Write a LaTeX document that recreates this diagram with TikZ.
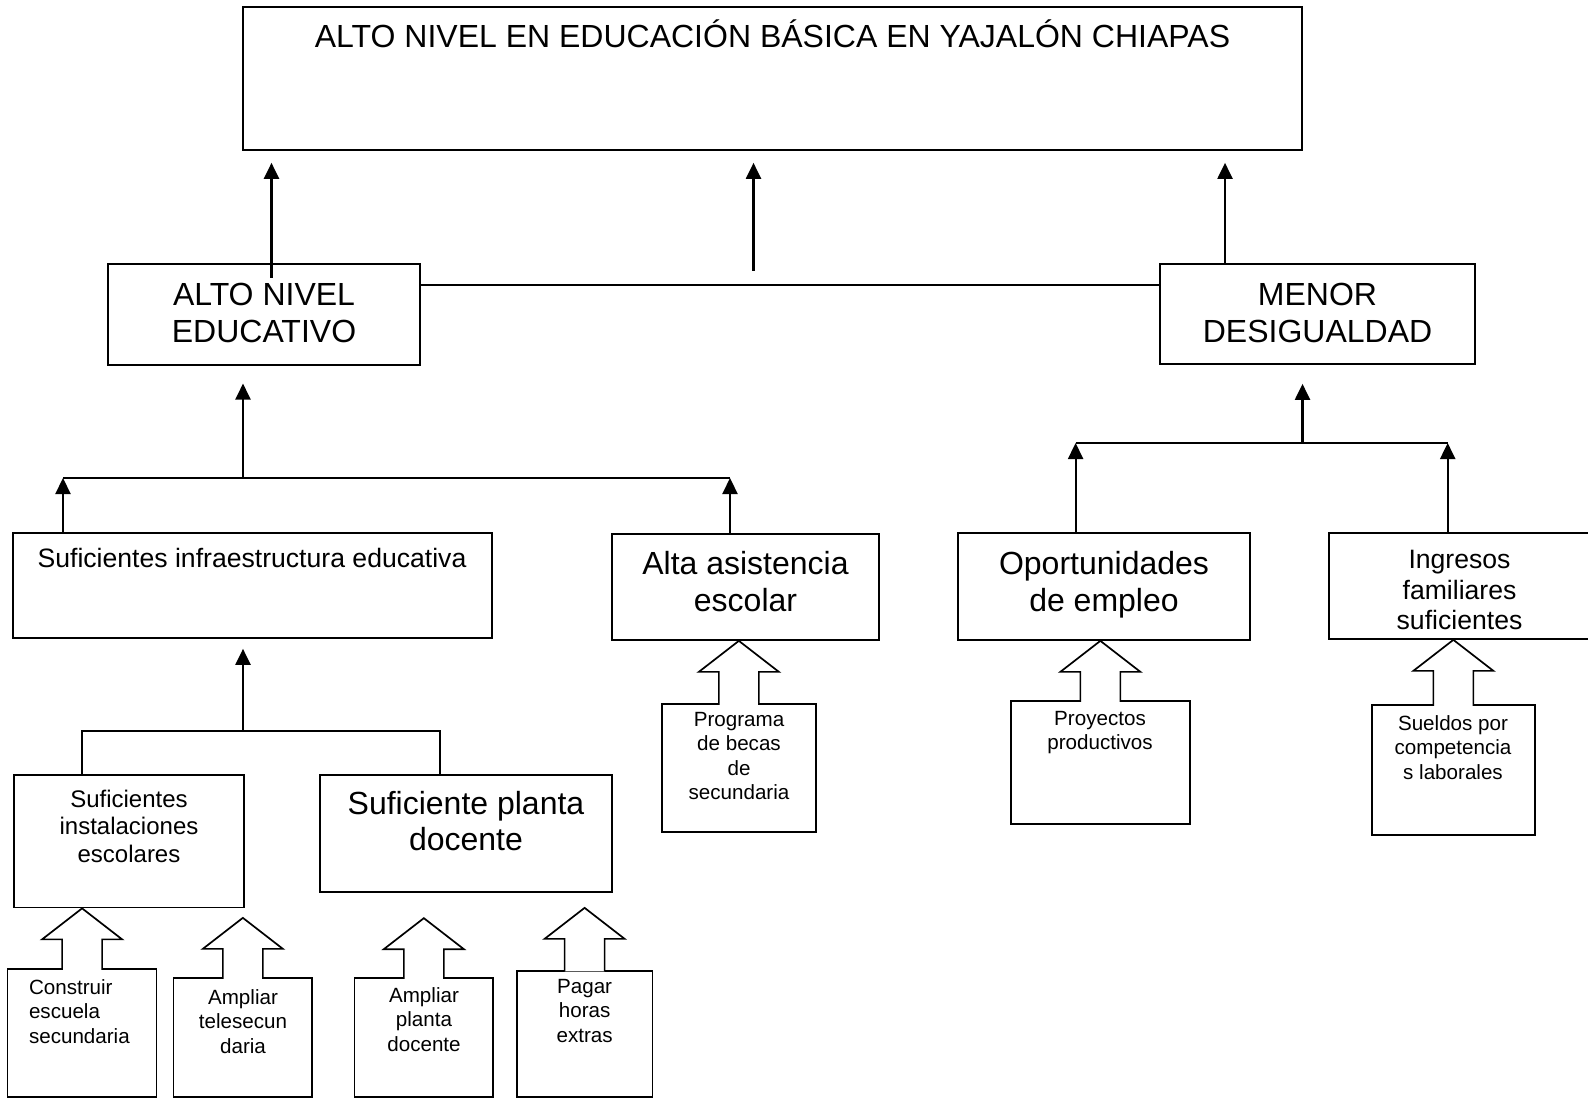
\documentclass[tikz,border=0pt]{standalone}
\usepackage{fontspec}
\setmainfont{Liberation Sans}
\usetikzlibrary{arrows.meta,calc,fit}

% hollow block arrow from a box up to a tip point
\newcommand{\fatarrow}[2]{%
  \draw[fat] ($(#1.north)+(-10pt,-0.8pt)$) -- ($(#2)+(-10pt,-15.5pt)$)
    -- ($(#2)+(-20pt,-15.5pt)$) -- (#2) -- ($(#2)+(20pt,-15.5pt)$)
    -- ($(#2)+(10pt,-15.5pt)$) -- ($(#1.north)+(10pt,-0.8pt)$);}

\begin{document}
\begin{tikzpicture}[x=0.5pt, y=-0.5pt,
  box/.style={draw, line width=0.85pt, inner sep=0pt},
  txt/.style={inner sep=0pt, align=center, anchor=north},
  bigtext/.style={font=\fontsize{16}{18.4}\selectfont},
  midtext/.style={font=\fontsize{13.3}{15.2}\selectfont},
  smalltext/.style={font=\fontsize{10.3}{12.2}\selectfont},
  conn/.style={line width=1.1pt},
  arr/.style={line width=1.1pt, -{Triangle[length=8pt,width=7.5pt]}},
  fat/.style={draw, fill=white, line width=0.85pt, line join=miter}]

\useasboundingbox (0,0) rectangle (1588,1101);

% GOAL
\node[box, fit={(243,7) (1302,150)}] (goal) {};
\node[bigtext, inner sep=0pt, anchor=base] (goal-t) at (772.5,47.3)
  {ALTO NIVEL EN EDUCACIÓN BÁSICA EN YAJALÓN CHIAPAS};

% SECOND LEVEL
\node[box, fit={(108,264) (420,365)}] (alto) {};
\node[txt, bigtext] (alto-t) at (264,282.5) {ALTO NIVEL\\EDUCATIVO};
\node[box, fit={(1160,264) (1475,364)}] (menor) {};
\node[txt, bigtext] (menor-t) at (1317.5,282.5) {MENOR\\DESIGUALDAD};

\coordinate (up1) at (271.5,278);
\coordinate (up2) at (753.5,271);
\coordinate (up3) at (1225,264);
\draw[arr, shorten >=6pt] (up1) -- (up1 |- goal.south);
\draw[arr, shorten >=6pt] (up2) -- (up2 |- goal.south);
\draw[arr, shorten >=6pt] (up3 |- menor.north) -- (up3 |- goal.south);
\draw[conn] (alto.east |- 0,285) -- (menor.west |- 0,285);

% LEFT BRANCH
\node[box, fit={(13,533) (492,638)}] (infra) {};
\node[midtext, inner sep=0pt, anchor=base] (infra-t) at (252,567)
  {Suficientes infraestructura educativa};
\node[box, fit={(612,534) (879,640)}] (alta) {};
\node[txt, bigtext] (alta-t) at (745.5,551) {Alta asistencia\\escolar};

\coordinate (j1) at (243,478);
\coordinate (j1l) at (63,478);
\coordinate (j1r) at (730,478);
\draw[conn] (j1l) -- (j1r);
\draw[arr, shorten >=8.85pt] (j1) -- (j1 |- alto.south);
\draw[arr] (j1l |- infra.north) -- (j1l);
\draw[arr] (j1r |- alta.north) -- (j1r);

% INFRAESTRUCTURA
\node[box, fit={(14,775) (244,907.5)}] (inst) {};
\node[txt, font=\fontsize{12}{13.75}\selectfont] (inst-t) at (129,789.5)
  {Suficientes\\instalaciones\\escolares};
\node[box, fit={(320,775) (612,892)}] (planta) {};
\node[txt, bigtext] (planta-t) at (466,790.5) {Suficiente planta\\docente};

\coordinate (j2) at (243,731);
\coordinate (j2l) at (81.6,731);
\coordinate (j2r) at (439.6,731);
\draw[arr, shorten >=5pt] (j2) -- (j2 |- infra.south);
\draw[conn] (j2l |- inst.north) -- (j2l) -- (j2r) -- (j2r |- planta.north);

% BOTTOM ROW
\node[box, fit={(7.6,969) (156.6,1097)}] (a1) {};
\node[smalltext, inner sep=0pt, align=left, anchor=north west] (a1-t) at (28.6,979)
  {Construir\\escuela\\secundaria};
\node[box, fit={(173.4,978) (312.3,1097)}] (a2) {};
\node[txt, smalltext] (a2-t) at (243,989) {Ampliar\\telesecun\\daria};
\node[box, fit={(354.4,978) (493.3,1097)}] (a3) {};
\node[txt, smalltext] (a3-t) at (424,987) {Ampliar\\planta\\docente};
\node[box, fit={(516.8,970.7) (652.4,1097)}] (a4) {};
\node[txt, smalltext] (a4-t) at (584.6,979) {Pagar\\horas\\extras};

\coordinate (t1) at (a1.north |- inst.south);
\coordinate (t2) at ($(a2.north |- inst.south)+(0,-4.75pt)$);
\coordinate (t3) at ($(a3.north |- planta.south)+(0,-12.65pt)$);
\coordinate (t4) at ($(a4.north |- planta.south)+(0,-7.5pt)$);
\fatarrow{a1}{t1}
\fatarrow{a2}{t2}
\fatarrow{a3}{t3}
\fatarrow{a4}{t4}

% ASISTENCIA
\node[box, fit={(661.7,704) (816,832)}] (b1) {};
\node[txt, smalltext] (b1-t) at (739,712) {Programa\\de becas\\de\\secundaria};
\coordinate (t5) at (b1.north |- alta.south);
\fatarrow{b1}{t5}

% RIGHT BRANCH
\node[box, fit={(958,533) (1250,640)}] (oport) {};
\node[txt, bigtext] (oport-t) at (1104,551) {Oportunidades\\de empleo};
\node[box, fit={(1329,533) (1590,639)}] (ingr) {};
\node[txt, midtext] (ingr-t) at (1459.5,550) {Ingresos\\familiares\\suficientes};

\coordinate (j3) at (1302.5,443);
\coordinate (j3l) at (1075.6,443);
\coordinate (j3r) at (1447.7,443);
\draw[conn] (j3l) -- (j3r);
\draw[arr, shorten >=9.5pt] (j3) -- (j3 |- menor.south);
\draw[arr] (j3l |- oport.north) -- (j3l);
\draw[arr] (j3r |- ingr.north) -- (j3r);

\node[box, fit={(1010.7,701) (1190,824)}] (c1) {};
\node[txt, smalltext] (c1-t) at (1100,711) {Proyectos\\productivos};
\node[box, fit={(1371.7,705) (1535,835)}] (d1) {};
\node[txt, smalltext] (d1-t) at (1453,715) {Sueldos por\\competencia\\s laborales};
\coordinate (t6) at (c1.north |- oport.south);
\coordinate (t7) at (d1.north |- ingr.south);
\fatarrow{c1}{t6}
\fatarrow{d1}{t7}

\end{tikzpicture}
\end{document}
